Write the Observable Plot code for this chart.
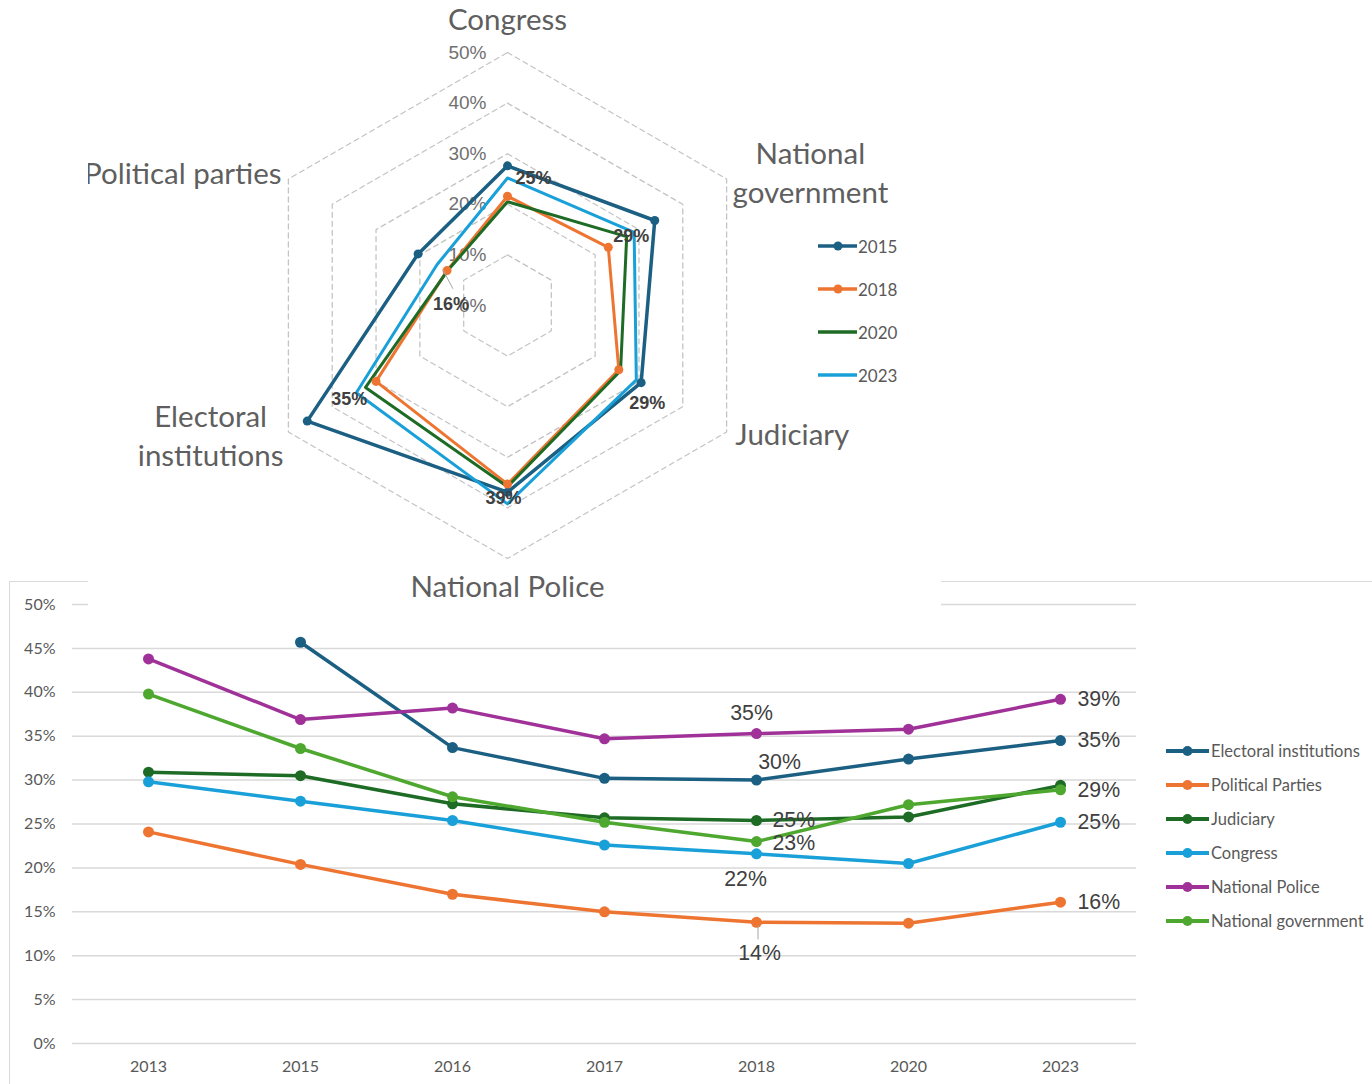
<!DOCTYPE html>
<html>
<head>
<meta charset="utf-8">
<script src="https://cdn.jsdelivr.net/npm/d3@7"></script>
<script src="https://cdn.jsdelivr.net/npm/@observablehq/plot@0.6"></script>
<style>
  html, body { margin: 0; padding: 0; background: #fff; }
  body { width: 1372px; height: 1084px; overflow: hidden; position: relative; font-family: Lato, "Open Sans", sans-serif; }
  #frame { position: absolute; left: 9px; top: 581px; width: 1400px; height: 600px; border: 1px solid #d9d9d9; }
  #lineChart { position: absolute; left: 0; top: 0; }
  #radarBox { position: absolute; left: 88px; top: 0; width: 853px; height: 607px; background: #fff; overflow: hidden; z-index: 2; }
  #radarChart { position: absolute; left: 0; top: 0; }
  .legend-item { position: absolute; display: flex; align-items: center; color: #595959; white-space: nowrap; }
  .legend-item svg { display: block; }
  svg.plot, svg { max-width: none !important; }
</style>
</head>
<body>
<div id="frame"><div id="lineChart"></div><div id="lineLegend"></div></div>
<div id="radarBox"><div id="radarChart"></div><div id="radarLegend"></div></div>
<script>
// ---------------- DATA ----------------
const years = ["2013", "2015", "2016", "2017", "2018", "2020", "2023"];
const seriesNames = ["Electoral institutions", "Political Parties", "Judiciary", "Congress", "National Police", "National government"];
const seriesColors = ["#1b5f82", "#ee7431", "#1d6b24", "#1aa0d8", "#a03199", "#4ea72e"];

const electoral  = [null, 45.7, 33.7, 30.2, 30.0, 32.4, 34.5];
const parties    = [24.1, 20.4, 17.0, 15.0, 13.8, 13.7, 16.1];
const judiciary  = [30.9, 30.5, 27.3, 25.7, 25.4, 25.8, 29.4];
const congress   = [29.8, 27.6, 25.4, 22.6, 21.6, 20.5, 25.2];
const police     = [43.8, 36.9, 38.2, 34.7, 35.3, 35.8, 39.2];
const government = [39.8, 33.6, 28.1, 25.2, 23.0, 27.2, 28.9];

const yTicks = [0, 5, 10, 15, 20, 25, 30, 35, 40, 45, 50];

// radar
const radarAxes = ["Congress", "National government", "Judiciary", "National Police", "Electoral institutions", "Political parties"];
const radarAxisLabels = ["Congress", "National\ngovernment", "Judiciary", "National Police", "Electoral\ninstitutions", "Political parties"];
const radarYears = ["2015", "2018", "2020", "2023"];
const radarColors = ["#1b5f82", "#ee7431", "#1d6b24", "#1aa0d8"];
const radarMarkerYears = ["2015", "2018"];
const radarRings = [10, 20, 30, 40, 50];
const radarRingLabels = [0, 10, 20, 30, 40, 50];
const radarLabelYear = "2023";

// ---------------- LINE CHART ----------------
const seriesValues = [electoral, parties, judiciary, congress, police, government];
const lineData = [];
seriesNames.forEach((s, si) => {
  years.forEach((y, yi) => {
    lineData.push({series: s, year: y, value: seriesValues[si][yi]});
  });
});
const defined = lineData.filter(d => d.value != null);
const fmt = v => Math.round(v) + "%";

const labelStyle2018 = {
  "National Police":        {dx: -5, dy: -20, textAnchor: "middle"},
  "Electoral institutions": {dx: 23, dy: -18, textAnchor: "middle"},
  "Judiciary":              {dx: 16, dy: 0, textAnchor: "start"},
  "National government":    {dx: 16, dy: 2, textAnchor: "start"},
  "Congress":               {dx: -11, dy: 25, textAnchor: "middle"},
  "Political Parties":      {dx: 3, dy: 31, textAnchor: "middle"}
};
const pxPerUnitLine = 439 / 50;

const labels2018 = Object.entries(labelStyle2018).map(([s, st]) =>
  Plot.text(defined.filter(d => d.year === "2018" && d.series === s), {
    x: "year", y: "value", text: d => fmt(d.value),
    dx: st.dx, dy: st.dy, textAnchor: st.textAnchor,
    fill: "#404040", fontSize: 21.3, fontFamily: "Liberation Sans, Arial, sans-serif"
  })
);

const leader2018 = Plot.link(defined.filter(d => d.year === "2018" && d.series === "Political Parties"), {
  x1: "year", x2: "year",
  y1: d => d.value - 3 / pxPerUnitLine, y2: d => d.value - 17 / pxPerUnitLine,
  dx: 1.5, stroke: "#a6a6a6", strokeWidth: 1
});

const lineChart = Plot.plot({
  width: 1362,
  height: 502,
  marginLeft: 62,
  marginRight: 236,
  marginTop: 22,
  marginBottom: 41,
  style: {fontFamily: "Lato, sans-serif", fontSize: "16px", color: "#595959", background: "transparent", overflow: "visible"},
  x: {type: "point", domain: years, padding: 0.5, label: null},
  y: {domain: [0, 50], label: null},
  color: {domain: seriesNames, range: seriesColors},
  marks: [
    Plot.ruleY(yTicks, {stroke: "#d9d9d9", strokeWidth: 1.5}),
    Plot.axisY({ticks: yTicks, tickFormat: d => d + "%", tickSize: 0, tickPadding: 17, label: null, fontSize: 16}),
    Plot.axisX({tickSize: 0, tickPadding: 17, label: null, fontSize: 16}),
    Plot.line(lineData, {x: "year", y: "value", z: "series", stroke: "series", strokeWidth: 3.5, strokeLinejoin: "round"}),
    Plot.dot(defined, {x: "year", y: "value", fill: "series", r: 5.5}),
    Plot.text(defined.filter(d => d.year === "2023" && d.series !== "Judiciary"), {
      x: "year", y: "value", text: d => fmt(d.value), dx: 17, textAnchor: "start",
      fill: "#404040", fontSize: 21.3, fontFamily: "Liberation Sans, Arial, sans-serif"
    }),
    ...labels2018,
    leader2018
  ]
});
document.getElementById("lineChart").appendChild(lineChart);

// line legend
const lineLegend = document.getElementById("lineLegend");
seriesNames.forEach((s, i) => {
  const div = document.createElement("div");
  div.className = "legend-item";
  div.style.left = (1166 - 10) + "px";
  div.style.top = (751 - 582 + i * 34 - 11) + "px";
  div.style.height = "22px";
  div.style.fontSize = "16.5px";
  div.innerHTML = `<svg width="45" height="22"><line x1="0" x2="43" y1="11" y2="11" stroke="${seriesColors[i]}" stroke-width="4"/><circle cx="21.5" cy="11" r="5" fill="${seriesColors[i]}"/></svg><span>${s}</span>`;
  lineLegend.appendChild(div);
});

// ---------------- RADAR CHART ----------------
const k = 253 / 50;          // px per percentage point
const cx = 507 - 88, cy = 305;
const angle = i => i * Math.PI / 3;
const polar = (v, i) => [v * Math.sin(angle(i)), v * Math.cos(angle(i))];

const axisArrays = {
  "Congress": congress, "National government": government, "Judiciary": judiciary,
  "National Police": police, "Electoral institutions": electoral, "Political parties": parties
};

const radarPoints = [];
radarYears.forEach(yr => {
  const yi = years.indexOf(yr);
  radarAxes.forEach((a, i) => {
    const v = axisArrays[a][yi];
    const [x, y] = polar(v, i);
    radarPoints.push({year: yr, axis: a, i, value: v, x, y});
  });
});

const ringPoints = [];
radarRings.forEach(r => radarAxes.forEach((a, i) => {
  const [x, y] = polar(r, i);
  ringPoints.push({ring: r, x, y});
}));

const axisLabelStyle = [
  {textAnchor: "middle", dx: 0, dy: -25},
  {textAnchor: "middle", dx: 75, dy: -3},
  {textAnchor: "start", dx: 0, dy: -5},
  {textAnchor: "middle", dx: 0, dy: 16},
  {textAnchor: "middle", dx: -69, dy: -3},
  {textAnchor: "end", dx: 2, dy: -3}
];
const axisLabelMarks = radarAxisLabels.map((lab, i) => {
  const [x, y] = polar(52, i);
  return Plot.text([lab], {
    x: () => x, y: () => y, text: d => d,
    textAnchor: axisLabelStyle[i].textAnchor, dx: axisLabelStyle[i].dx, dy: axisLabelStyle[i].dy,
    lineAnchor: "middle", lineHeight: 1.33,
    fontSize: 29.5, fill: "#5f5f5f", fontFamily: "Lato, sans-serif"
  });
});

const dataLabelStyle = [
  {dx: 26, dy: 0}, {dx: -3, dy: 4}, {dx: 11, dy: 23}, {dx: -4, dy: -6}, {dx: -7, dy: 6}, {dx: 14, dy: 39}
];
const labelPts = radarPoints.filter(d => d.year === radarLabelYear);
const dataLabelMarks = labelPts.map((p, i) => Plot.text([p], {
  x: "x", y: "y", text: d => fmt(d.value),
  dx: dataLabelStyle[i].dx, dy: dataLabelStyle[i].dy, textAnchor: "middle",
  fill: "#404040", fontWeight: "bold", fontSize: 18, fontFamily: "Liberation Sans, Arial, sans-serif"
}));
const leaderPt = labelPts[5];
const radarLeader = Plot.link([leaderPt], {
  x1: d => d.x + 6 / k, y1: d => d.y - 5 / k, x2: d => d.x + 16 / k, y2: d => d.y - 24 / k,
  stroke: "#a6a6a6", strokeWidth: 1
});

const radarChart = Plot.plot({
  width: 853,
  height: 607,
  style: {background: "transparent", overflow: "visible", fontFamily: "Lato, sans-serif"},
  x: {domain: [-50, 50], range: [cx - 253, cx + 253], axis: null},
  y: {domain: [-50, 50], range: [cy + 253, cy - 253], axis: null},
  color: {domain: radarYears, range: radarColors},
  marks: [
    Plot.line(ringPoints, {x: "x", y: "y", z: "ring", curve: "linear-closed", stroke: "#c4c4c4", strokeWidth: 1.3, strokeDasharray: "5,4"}),
    Plot.text(radarRingLabels, {x: () => 0, y: d => d, text: d => d + "%", textAnchor: "end", dx: -21,
      fill: "#707070", fontSize: 19, fontFamily: "Liberation Sans, Arial, sans-serif"}),
    Plot.line(radarPoints, {x: "x", y: "y", z: "year", stroke: "year", curve: "linear-closed",
      strokeWidth: d => d.year === "2015" ? 3.5 : 3, strokeLinejoin: "round"}),
    Plot.dot(radarPoints.filter(d => radarMarkerYears.includes(d.year)), {x: "x", y: "y", fill: "year", r: 4.5}),
    ...axisLabelMarks,
    ...dataLabelMarks,
    radarLeader
  ]
});
document.getElementById("radarChart").appendChild(radarChart);

// radar legend
const radarLegend = document.getElementById("radarLegend");
radarYears.forEach((yr, i) => {
  const div = document.createElement("div");
  div.className = "legend-item";
  div.style.left = (818 - 88) + "px";
  div.style.top = (246 + i * 43 - 12) + "px";
  div.style.height = "24px";
  div.style.fontSize = "17px";
  const dot = radarMarkerYears.includes(yr) ? `<circle cx="20" cy="12" r="4.5" fill="${radarColors[i]}"/>` : "";
  div.innerHTML = `<svg width="40" height="24"><line x1="0" x2="39" y1="12" y2="12" stroke="${radarColors[i]}" stroke-width="3.5"/>${dot}</svg><span>${yr}</span>`;
  radarLegend.appendChild(div);
});
</script>
</body>
</html>
